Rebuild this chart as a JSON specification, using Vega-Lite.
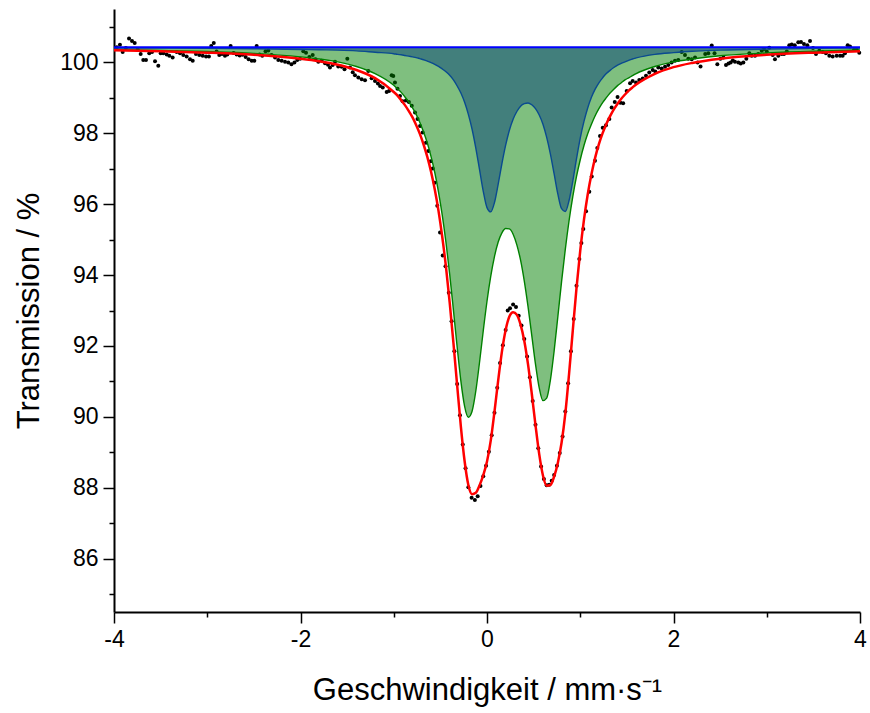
{
"$schema": "https://vega.github.io/schema/vega-lite/v6.json",
"autosize": {"type": "none"},
"padding": {"left": 114, "top": 9, "right": 10, "bottom": 101},
"width": 746,
"height": 603,
"config": {
 "view": {"stroke": null},
 "font": "Liberation Sans",
 "axis": {"domainColor": "black", "domainWidth": 2, "tickColor": "black", "tickWidth": 1.5, "labelColor": "black", "titleColor": "black", "labelFont": "Liberation Sans", "titleFont": "Liberation Sans", "labelFontSize": 23, "titleFontSize": 31, "titleFontWeight": "normal", "grid": false, "labelOverlap": false}
},
"resolve": {"axis": {"y": "independent"}},
"datasets": {
"dots": [
{"v":-3.97,"T":100.42},{"v":-3.936,"T":100.49},{"v":-3.907,"T":100.29},{"v":-3.873,"T":100.40},{"v":-3.839,"T":100.67},{"v":-3.807,"T":100.60},{"v":-3.778,"T":100.54},{"v":-3.746,"T":100.36},{"v":-3.714,"T":100.23},{"v":-3.686,"T":100.06},{"v":-3.657,"T":100.06},{"v":-3.622,"T":100.25},{"v":-3.592,"T":100.29},{"v":-3.560,"T":100.03},{"v":-3.525,"T":99.90},{"v":-3.499,"T":100.25},{"v":-3.471,"T":100.25},{"v":-3.435,"T":100.22},{"v":-3.407,"T":100.18},{"v":-3.371,"T":100.13},{"v":-3.328,"T":100.29},{"v":-3.292,"T":100.25},{"v":-3.257,"T":100.20},{"v":-3.221,"T":100.16},{"v":-3.185,"T":100.08},{"v":-3.156,"T":100.04},{"v":-3.121,"T":100.23},{"v":-3.085,"T":100.20},{"v":-3.049,"T":100.18},{"v":-3.013,"T":100.16},{"v":-2.982,"T":100.16},{"v":-2.957,"T":100.46},{"v":-2.930,"T":100.54},{"v":-2.900,"T":100.30},{"v":-2.871,"T":100.20},{"v":-2.842,"T":100.23},{"v":-2.810,"T":100.18},{"v":-2.785,"T":100.22},{"v":-2.749,"T":100.46},{"v":-2.717,"T":100.26},{"v":-2.685,"T":100.22},{"v":-2.652,"T":100.19},{"v":-2.620,"T":100.21},{"v":-2.588,"T":100.15},{"v":-2.556,"T":100.08},{"v":-2.523,"T":100.04},{"v":-2.495,"T":100.04},{"v":-2.470,"T":100.46},{"v":-2.440,"T":100.22},{"v":-2.410,"T":100.18},{"v":-2.375,"T":100.31},{"v":-2.345,"T":100.33},{"v":-2.310,"T":100.20},{"v":-2.273,"T":100.13},{"v":-2.238,"T":100.06},{"v":-2.202,"T":100.04},{"v":-2.166,"T":100.01},{"v":-2.131,"T":99.99},{"v":-2.097,"T":99.94},{"v":-2.065,"T":99.99},{"v":-2.035,"T":100.06},{"v":-2.005,"T":100.10},{"v":-1.970,"T":100.31},{"v":-1.941,"T":100.27},{"v":-1.905,"T":100.15},{"v":-1.869,"T":100.20},{"v":-1.839,"T":100.08},{"v":-1.809,"T":100.01},{"v":-1.773,"T":100.04},{"v":-1.737,"T":99.97},{"v":-1.705,"T":99.93},{"v":-1.684,"T":99.85},{"v":-1.655,"T":99.92},{"v":-1.630,"T":100.01},{"v":-1.595,"T":99.88},{"v":-1.558,"T":99.87},{"v":-1.528,"T":99.80},{"v":-1.498,"T":100.10},{"v":-1.469,"T":99.85},{"v":-1.440,"T":99.72},{"v":-1.416,"T":99.63},{"v":-1.380,"T":99.57},{"v":-1.344,"T":99.52},{"v":-1.308,"T":99.49},{"v":-1.273,"T":99.75},{"v":-1.237,"T":99.55},{"v":-1.201,"T":99.47},{"v":-1.170,"T":99.40},{"v":-1.147,"T":99.33},{"v":-1.118,"T":99.29},{"v":-1.076,"T":99.16},{"v":-1.050,"T":99.19},{"v":-1.022,"T":99.63},{"v":-1.005,"T":99.61},{"v":-0.987,"T":99.43},{"v":-0.960,"T":99.25},{"v":-0.933,"T":99.05},{"v":-0.905,"T":98.90},{"v":-0.869,"T":98.92},{"v":-0.838,"T":98.88},{"v":-0.807,"T":98.77},{"v":-0.772,"T":98.58},{"v":-0.745,"T":98.40},{"v":-0.718,"T":98.20},{"v":-0.690,"T":98.02},{"v":-0.654,"T":97.73},{"v":-0.629,"T":97.50},{"v":-0.604,"T":97.21},{"v":-0.582,"T":97.00},{"v":-0.562,"T":96.60},{"v":-0.533,"T":95.95},{"v":-0.504,"T":95.20},{"v":-0.475,"T":94.55},{"v":-0.445,"T":94.25},{"v":-0.410,"T":93.50},{"v":-0.380,"T":92.70},{"v":-0.350,"T":91.85},{"v":-0.320,"T":90.93},{"v":-0.290,"T":90.05},{"v":-0.260,"T":89.22},{"v":-0.230,"T":88.55},{"v":-0.200,"T":88.02},{"v":-0.165,"T":87.72},{"v":-0.130,"T":87.66},{"v":-0.100,"T":87.76},{"v":-0.070,"T":88.05},{"v":-0.040,"T":88.33},{"v":-0.010,"T":88.62},{"v":0.020,"T":89.02},{"v":0.050,"T":89.48},{"v":0.080,"T":90.12},{"v":0.110,"T":90.82},{"v":0.140,"T":91.52},{"v":0.170,"T":92.02},{"v":0.200,"T":92.45},{"v":0.222,"T":93.00},{"v":0.247,"T":93.06},{"v":0.280,"T":93.17},{"v":0.311,"T":93.10},{"v":0.340,"T":92.85},{"v":0.370,"T":92.58},{"v":0.400,"T":92.20},{"v":0.430,"T":91.70},{"v":0.460,"T":91.12},{"v":0.490,"T":90.45},{"v":0.520,"T":89.78},{"v":0.550,"T":89.12},{"v":0.580,"T":88.60},{"v":0.610,"T":88.25},{"v":0.640,"T":88.07},{"v":0.667,"T":88.09},{"v":0.694,"T":88.20},{"v":0.720,"T":88.36},{"v":0.750,"T":88.62},{"v":0.780,"T":88.98},{"v":0.810,"T":89.45},{"v":0.840,"T":90.15},{"v":0.870,"T":90.95},{"v":0.900,"T":91.85},{"v":0.930,"T":92.76},{"v":0.960,"T":93.70},{"v":0.990,"T":94.45},{"v":1.012,"T":94.90},{"v":1.033,"T":95.30},{"v":1.062,"T":95.80},{"v":1.097,"T":96.35},{"v":1.123,"T":96.78},{"v":1.158,"T":97.22},{"v":1.183,"T":97.58},{"v":1.212,"T":97.92},{"v":1.241,"T":98.15},{"v":1.276,"T":98.22},{"v":1.312,"T":98.40},{"v":1.337,"T":98.72},{"v":1.370,"T":98.88},{"v":1.400,"T":99.02},{"v":1.430,"T":98.86},{"v":1.460,"T":98.84},{"v":1.498,"T":99.19},{"v":1.534,"T":99.41},{"v":1.562,"T":99.47},{"v":1.598,"T":99.43},{"v":1.633,"T":99.50},{"v":1.670,"T":99.54},{"v":1.705,"T":99.62},{"v":1.740,"T":99.71},{"v":1.777,"T":99.78},{"v":1.805,"T":99.74},{"v":1.837,"T":99.85},{"v":1.873,"T":99.82},{"v":1.909,"T":99.87},{"v":1.944,"T":99.92},{"v":1.980,"T":99.99},{"v":2.016,"T":100.04},{"v":2.051,"T":100.06},{"v":2.088,"T":100.29},{"v":2.123,"T":100.20},{"v":2.159,"T":100.10},{"v":2.195,"T":100.08},{"v":2.231,"T":100.13},{"v":2.258,"T":99.99},{"v":2.290,"T":99.88},{"v":2.340,"T":100.23},{"v":2.373,"T":100.25},{"v":2.410,"T":100.47},{"v":2.440,"T":100.25},{"v":2.470,"T":99.94},{"v":2.503,"T":100.10},{"v":2.535,"T":100.13},{"v":2.563,"T":99.92},{"v":2.590,"T":99.96},{"v":2.613,"T":99.99},{"v":2.636,"T":100.05},{"v":2.659,"T":100.01},{"v":2.695,"T":99.99},{"v":2.721,"T":99.96},{"v":2.749,"T":99.99},{"v":2.781,"T":100.10},{"v":2.813,"T":100.25},{"v":2.839,"T":100.18},{"v":2.874,"T":100.18},{"v":2.909,"T":100.23},{"v":2.946,"T":100.32},{"v":2.971,"T":100.37},{"v":3.000,"T":100.30},{"v":3.027,"T":100.41},{"v":3.064,"T":100.20},{"v":3.088,"T":100.08},{"v":3.124,"T":100.18},{"v":3.160,"T":100.23},{"v":3.185,"T":100.23},{"v":3.215,"T":100.30},{"v":3.242,"T":100.48},{"v":3.268,"T":100.50},{"v":3.300,"T":100.48},{"v":3.338,"T":100.56},{"v":3.367,"T":100.57},{"v":3.399,"T":100.51},{"v":3.435,"T":100.48},{"v":3.464,"T":100.60},{"v":3.496,"T":100.40},{"v":3.528,"T":100.23},{"v":3.564,"T":100.32},{"v":3.600,"T":100.29},{"v":3.635,"T":100.25},{"v":3.671,"T":100.18},{"v":3.707,"T":100.16},{"v":3.750,"T":100.18},{"v":3.786,"T":100.18},{"v":3.814,"T":100.18},{"v":3.839,"T":100.25},{"v":3.868,"T":100.48},{"v":3.893,"T":100.44},{"v":3.936,"T":100.35},{"v":3.965,"T":100.35},{"v":3.992,"T":100.27}
],
"curves": [
{"v":-4,"g":100.35,"t":100.40,"f":100.34,"b":100.42},{"v":-3.5,"g":100.33,"t":100.40,"f":100.31,"b":100.42},{"v":-3,"g":100.30,"t":100.39,"f":100.27,"b":100.42},{"v":-2.5,"g":100.25,"t":100.38,"f":100.21,"b":100.42},{"v":-2,"g":100.15,"t":100.36,"f":100.10,"b":100.42},{"v":-1.8,"g":100.09,"t":100.35,"f":100.03,"b":100.42},{"v":-1.6,"g":100.01,"t":100.34,"f":99.93,"b":100.42},{"v":-1.4,"g":99.88,"t":100.32,"f":99.78,"b":100.42},{"v":-1.2,"g":99.68,"t":100.28,"f":99.55,"b":100.42},{"v":-1.0,"g":99.35,"t":100.24,"f":99.16,"b":100.42},{"v":-0.96,"g":99.25,"t":100.22,"f":99.06,"b":100.42},{"v":-0.92,"g":99.15,"t":100.21,"f":98.93,"b":100.42},{"v":-0.88,"g":99.02,"t":100.19,"f":98.79,"b":100.42},{"v":-0.84,"g":98.88,"t":100.17,"f":98.63,"b":100.42},{"v":-0.80,"g":98.72,"t":100.15,"f":98.45,"b":100.42},{"v":-0.76,"g":98.53,"t":100.13,"f":98.23,"b":100.42},{"v":-0.72,"g":98.30,"t":100.10,"f":97.98,"b":100.42},{"v":-0.68,"g":98.03,"t":100.07,"f":97.68,"b":100.42},{"v":-0.64,"g":97.72,"t":100.03,"f":97.33,"b":100.42},{"v":-0.60,"g":97.34,"t":99.99,"f":96.91,"b":100.42},{"v":-0.56,"g":96.89,"t":99.94,"f":96.41,"b":100.42},{"v":-0.52,"g":96.34,"t":99.88,"f":95.81,"b":100.42},{"v":-0.48,"g":95.69,"t":99.81,"f":95.08,"b":100.42},{"v":-0.44,"g":94.92,"t":99.73,"f":94.23,"b":100.42},{"v":-0.40,"g":94.02,"t":99.63,"f":93.22,"b":100.42},{"v":-0.36,"g":93.01,"t":99.50,"f":92.09,"b":100.42},{"v":-0.32,"g":91.97,"t":99.33,"f":90.89,"b":100.42},{"v":-0.28,"g":91.01,"t":99.13,"f":89.72,"b":100.42},{"v":-0.24,"g":90.30,"t":98.87,"f":88.75,"b":100.42},{"v":-0.20,"g":89.99,"t":98.53,"f":88.08,"b":100.42},{"v":-0.16,"g":90.16,"t":98.11,"f":87.82,"b":100.42},{"v":-0.12,"g":90.73,"t":97.58,"f":87.86,"b":100.42},{"v":-0.08,"g":91.54,"t":96.97,"f":88.07,"b":100.42},{"v":-0.04,"g":92.43,"t":96.36,"f":88.36,"b":100.42},{"v":0.00,"g":93.26,"t":95.90,"f":88.74,"b":100.42},{"v":0.04,"g":93.96,"t":95.78,"f":89.33,"b":100.42},{"v":0.08,"g":94.52,"t":96.04,"f":90.14,"b":100.42},{"v":0.12,"g":94.93,"t":96.56,"f":91.03,"b":100.42},{"v":0.16,"g":95.19,"t":97.14,"f":91.84,"b":100.42},{"v":0.20,"g":95.31,"t":97.66,"f":92.45,"b":100.42},{"v":0.24,"g":95.30,"t":98.08,"f":92.83,"b":100.42},{"v":0.28,"g":95.15,"t":98.39,"f":92.95,"b":100.42},{"v":0.32,"g":94.85,"t":98.61,"f":92.88,"b":100.42},{"v":0.36,"g":94.42,"t":98.76,"f":92.60,"b":100.42},{"v":0.40,"g":93.83,"t":98.83,"f":92.14,"b":100.42},{"v":0.44,"g":93.11,"t":98.85,"f":91.48,"b":100.42},{"v":0.48,"g":92.30,"t":98.80,"f":90.66,"b":100.42},{"v":0.52,"g":91.49,"t":98.69,"f":89.77,"b":100.42},{"v":0.56,"g":90.82,"t":98.51,"f":88.95,"b":100.42},{"v":0.60,"g":90.46,"t":98.25,"f":88.35,"b":100.42},{"v":0.64,"g":90.53,"t":97.88,"f":88.06,"b":100.42},{"v":0.68,"g":91.04,"t":97.41,"f":88.08,"b":100.42},{"v":0.72,"g":91.86,"t":96.85,"f":88.32,"b":100.42},{"v":0.76,"g":92.83,"t":96.28,"f":88.71,"b":100.42},{"v":0.80,"g":93.82,"t":95.87,"f":89.28,"b":100.42},{"v":0.84,"g":94.73,"t":95.79,"f":90.10,"b":100.42},{"v":0.88,"g":95.53,"t":96.10,"f":91.21,"b":100.42},{"v":0.92,"g":96.21,"t":96.65,"f":92.44,"b":100.42},{"v":0.96,"g":96.78,"t":97.28,"f":93.64,"b":100.42},{"v":1.00,"g":97.25,"t":97.86,"f":94.69,"b":100.42},{"v":1.04,"g":97.65,"t":98.33,"f":95.56,"b":100.42},{"v":1.08,"g":97.98,"t":98.71,"f":96.27,"b":100.42},{"v":1.12,"g":98.25,"t":99.01,"f":96.84,"b":100.42},{"v":1.16,"g":98.49,"t":99.24,"f":97.31,"b":100.42},{"v":1.20,"g":98.69,"t":99.42,"f":97.69,"b":100.42},{"v":1.24,"g":98.86,"t":99.56,"f":98.00,"b":100.42},{"v":1.28,"g":99.00,"t":99.68,"f":98.26,"b":100.42},{"v":1.32,"g":99.13,"t":99.77,"f":98.48,"b":100.42},{"v":1.36,"g":99.24,"t":99.85,"f":98.67,"b":100.42},{"v":1.40,"g":99.34,"t":99.92,"f":98.83,"b":100.42},{"v":1.44,"g":99.42,"t":99.97,"f":98.97,"b":100.42},{"v":1.48,"g":99.50,"t":100.01,"f":99.09,"b":100.42},{"v":1.52,"g":99.56,"t":100.05,"f":99.20,"b":100.42},{"v":1.56,"g":99.62,"t":100.09,"f":99.29,"b":100.42},{"v":1.60,"g":99.68,"t":100.12,"f":99.37,"b":100.42},{"v":1.80,"g":99.88,"t":100.22,"f":99.67,"b":100.42},{"v":2.00,"g":100.01,"t":100.27,"f":99.86,"b":100.42},{"v":2.20,"g":100.09,"t":100.31,"f":99.98,"b":100.42},{"v":2.50,"g":100.18,"t":100.34,"f":100.10,"b":100.42},{"v":3.00,"g":100.26,"t":100.37,"f":100.21,"b":100.42},{"v":3.50,"g":100.31,"t":100.39,"f":100.27,"b":100.42},{"v":4.00,"g":100.34,"t":100.40,"f":100.31,"b":100.42}
]
},
"encoding": {
 "x": {"field": "v", "type": "quantitative", "scale": {"domain": [-4, 4], "nice": false, "zero": false},
   "axis": {"values": [-4,-3,-2,-1,0,1,2,3,4], "labelExpr": "datum.value % 2 === 0 ? toString(datum.value) : ''", "tickSize": {"condition": {"test": "datum.value % 2 !== 0", "value": 5}, "value": 11}, "labelPadding": 5, "labelFlush": false, "title": "Geschwindigkeit / mm·s⁻¹", "titlePadding": 24}}
},
"layer": [
 {"data": {"name": "dots"}, "mark": {"type": "circle", "color": "black", "size": 16, "opacity": 1},
  "encoding": {
   "y": {"field": "T", "type": "quantitative", "scale": {"domain": [84.5, 101.5], "nice": false, "zero": false},
     "axis": {"orient": "left", "values": [85,86,87,88,89,90,91,92,93,94,95,96,97,98,99,100,101], "labelExpr": "datum.value % 2 === 0 ? toString(datum.value) : ''", "tickSize": {"condition": {"test": "datum.value % 2 !== 0", "value": 5}, "value": 11}, "labelPadding": 5, "title": "Transmission / %", "titlePadding": 14}}
  }},
 {"data": {"name": "curves"}, "mark": {"type": "area", "color": "#008000", "opacity": 0.5, "interpolate": "monotone"},
  "encoding": {"y": {"field": "g", "type": "quantitative", "axis": null}, "y2": {"field": "b"}}},
 {"data": {"name": "curves"}, "mark": {"type": "area", "color": "#063f7a", "opacity": 0.5, "interpolate": "monotone"},
  "encoding": {"y": {"field": "t", "type": "quantitative", "axis": null}, "y2": {"field": "b"}}},
 {"data": {"name": "curves"}, "mark": {"type": "line", "color": "#008000", "strokeWidth": 1.4, "interpolate": "monotone"},
  "encoding": {"y": {"field": "g", "type": "quantitative", "axis": null}}},
 {"data": {"name": "curves"}, "mark": {"type": "line", "color": "#0a4a90", "strokeWidth": 1.4, "interpolate": "monotone"},
  "encoding": {"y": {"field": "t", "type": "quantitative", "axis": null}}},
 {"data": {"name": "curves"}, "mark": {"type": "line", "color": "#ff0000", "strokeWidth": 2.5, "interpolate": "monotone"},
  "encoding": {"y": {"field": "f", "type": "quantitative", "axis": null}}},
 {"data": {"name": "curves"}, "mark": {"type": "line", "color": "#0000ff", "strokeWidth": 2},
  "encoding": {"y": {"field": "b", "type": "quantitative", "axis": null}}}
]
}
